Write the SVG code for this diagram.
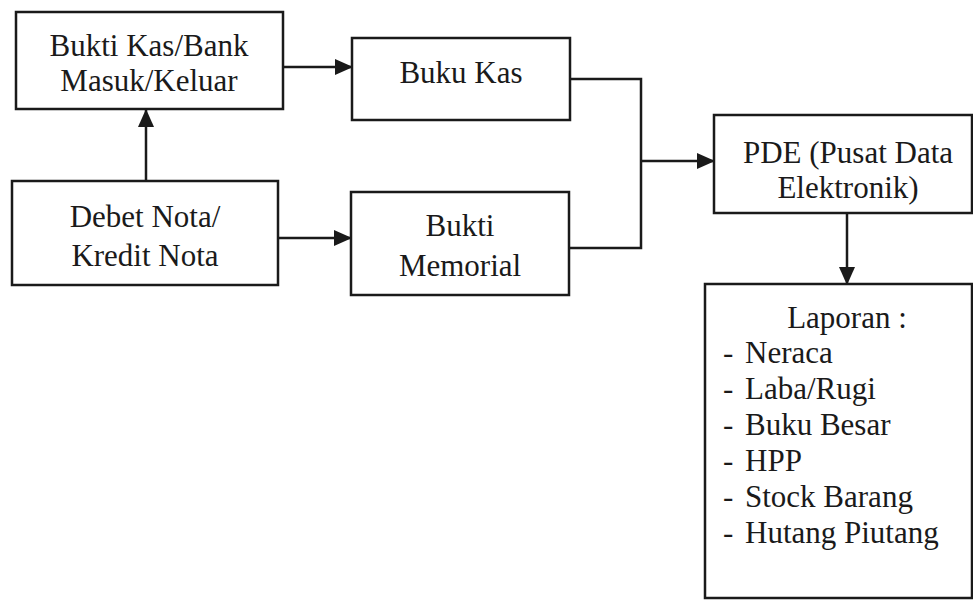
<svg xmlns="http://www.w3.org/2000/svg" width="973" height="605" viewBox="0 0 973 605">
<style>
.box{fill:none;stroke:#1a1a1a;stroke-width:2.5}
.t{font-family:"Liberation Serif",Tinos,"Times New Roman",Times,serif;font-size:31px;fill:#1a1a1a}
.c{text-anchor:middle}
.ln{fill:none;stroke:#1a1a1a;stroke-width:2.5}
</style>
<defs>
<marker id="ah" markerWidth="18" markerHeight="16" refX="17" refY="8" orient="auto" markerUnits="userSpaceOnUse">
<path d="M0,0 L18,8 L0,16 Z" fill="#1a1a1a"/>
</marker>
</defs>
<rect width="973" height="605" fill="#ffffff"/>
<g id="connectors">
<path class="ln" d="M283,67 L352,67" marker-end="url(#ah)"/>
<path class="ln" d="M146,181 L146,110" marker-end="url(#ah)"/>
<path class="ln" d="M278,238 L351,238" marker-end="url(#ah)"/>
<path class="ln" d="M570,79 L641,79 L641,248 L569,248"/>
<path class="ln" d="M641,161 L714,161" marker-end="url(#ah)"/>
<path class="ln" d="M847,213 L847,284" marker-end="url(#ah)"/>
</g>
<g id="bukti-kas-bank">
<rect class="box" x="16" y="12" width="267" height="97"/>
<text class="t c" x="149" y="56">Bukti Kas/Bank</text>
<text class="t c" x="149" y="91">Masuk/Keluar</text>
</g>
<g id="debet-nota">
<rect class="box" x="12" y="181" width="266" height="104"/>
<text class="t c" x="145" y="227">Debet Nota/</text>
<text class="t c" x="145" y="266">Kredit Nota</text>
</g>
<g id="buku-kas">
<rect class="box" x="352" y="38" width="218" height="82"/>
<text class="t c" x="461" y="83">Buku Kas</text>
</g>
<g id="bukti-memorial">
<rect class="box" x="351" y="192" width="218" height="103"/>
<text class="t c" x="460" y="236">Bukti</text>
<text class="t c" x="460" y="276">Memorial</text>
</g>
<g id="pde">
<rect class="box" x="714" y="115" width="258" height="98"/>
<text class="t c" x="848" y="163">PDE (Pusat Data</text>
<text class="t c" x="848" y="198">Elektronik)</text>
</g>
<g id="laporan">
<rect class="box" x="705" y="284" width="267" height="314"/>
<text class="t c" x="847" y="328">Laporan :</text>
<text class="t" x="723" y="363">-</text><text class="t" x="745" y="363">Neraca</text>
<text class="t" x="723" y="399">-</text><text class="t" x="745" y="399">Laba/Rugi</text>
<text class="t" x="723" y="435">-</text><text class="t" x="745" y="435">Buku Besar</text>
<text class="t" x="723" y="471">-</text><text class="t" x="745" y="471">HPP</text>
<text class="t" x="723" y="507">-</text><text class="t" x="745" y="507">Stock Barang</text>
<text class="t" x="723" y="543">-</text><text class="t" x="745" y="543">Hutang Piutang</text>
</g>
</svg>
